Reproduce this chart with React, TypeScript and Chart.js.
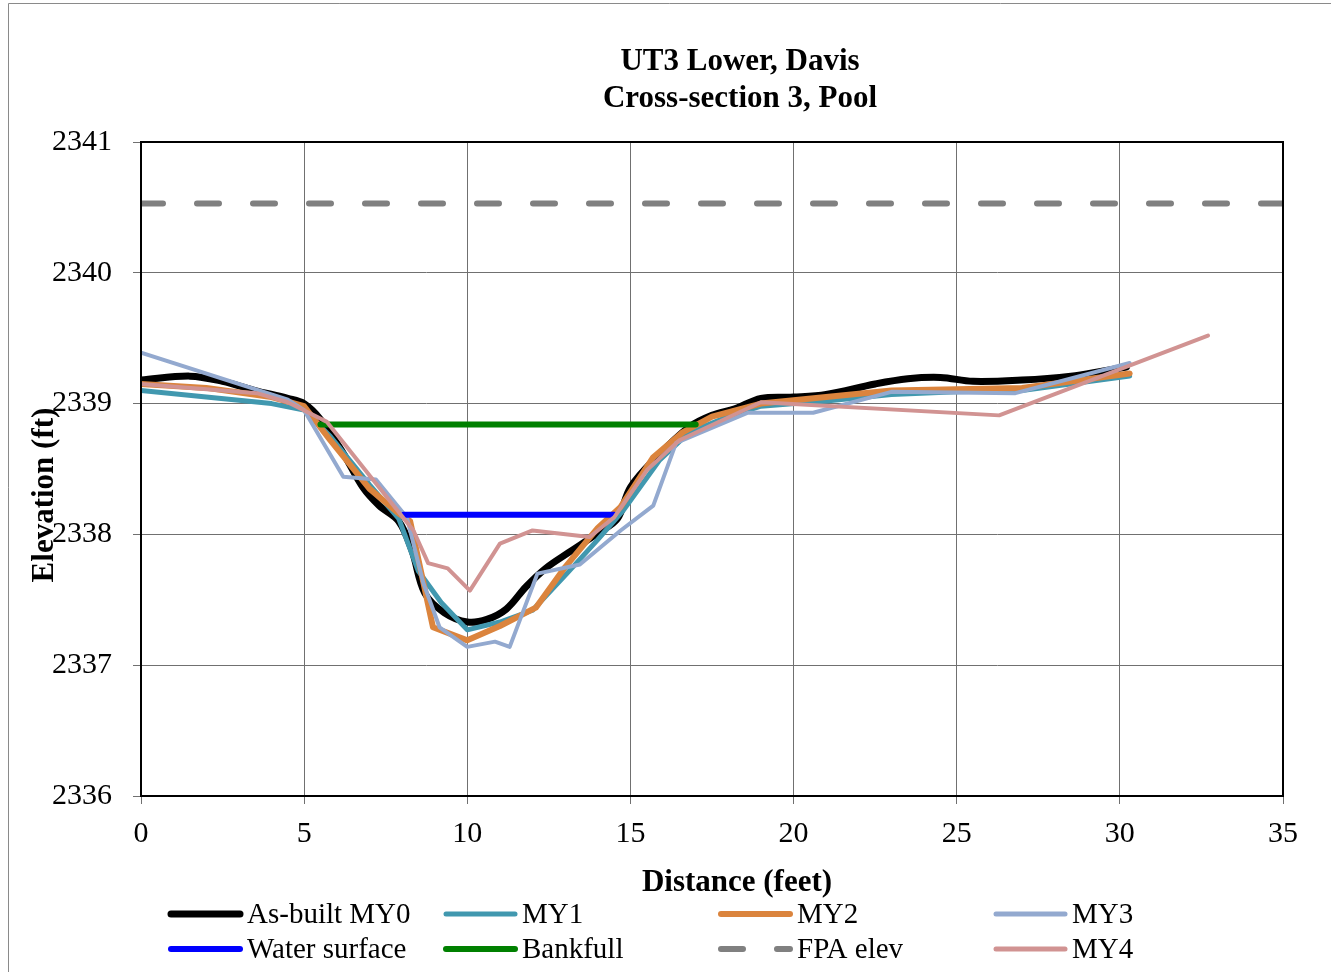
import React, { useEffect, useRef } from "react";
import { Chart, registerables } from "chart.js";

Chart.register(...registerables);

// ---- Data ----
const xTicksMin = 0;
const xTicksMax = 35;
const yTicksMin = 2336;
const yTicksMax = 2341;

const mainTitle = ["UT3 Lower, Davis", "Cross-section 3, Pool"];
const xAxisTitle = "Distance (feet)";
const yAxisTitle = "Elevation (ft)";

const asBuiltX = [0, 1.5, 2.5, 3.5, 4.5, 5.0, 5.5, 6.2, 6.8, 7.3, 7.9, 8.3, 8.7, 9.3, 10.0, 10.6, 11.2, 11.8, 12.4, 13.1, 14.0, 14.6, 15.0, 15.8, 16.8, 17.5, 18.2, 19.0, 20.0, 21.0, 22.5, 23.5, 24.5, 25.5, 27.0, 28.5, 29.5, 30.2];
const asBuiltY = [2339.18, 2339.21, 2339.17, 2339.1, 2339.04, 2339.0, 2338.88, 2338.62, 2338.36, 2338.22, 2338.1, 2337.88, 2337.55, 2337.4, 2337.33, 2337.35, 2337.43, 2337.6, 2337.74, 2337.86, 2338.01, 2338.12, 2338.36, 2338.59, 2338.82, 2338.91, 2338.96, 2339.04, 2339.05, 2339.07, 2339.15, 2339.19, 2339.2, 2339.17, 2339.18, 2339.21, 2339.25, 2339.28];

const my1X = [0, 2, 4, 5, 5.8, 7, 7.9, 8.5, 9.2, 10.0, 11, 12.0, 13.05, 14.0, 14.8, 15.9, 16.8, 18, 19, 21, 23, 25, 27, 30.3];
const my1Y = [2339.1, 2339.05, 2339.0, 2338.95, 2338.75, 2338.38, 2338.12, 2337.72, 2337.48, 2337.27, 2337.33, 2337.42, 2337.7, 2337.96, 2338.19, 2338.57, 2338.78, 2338.9, 2338.98, 2339.02, 2339.07, 2339.09, 2339.1, 2339.21];

const my2X = [0, 2, 4, 5, 5.8, 7.0, 7.9, 8.25, 8.95, 10.0, 11.0, 12.1, 13.0, 14.0, 14.7, 15.7, 16.6, 17.5, 19, 21, 23, 25, 27, 30.3];
const my2Y = [2339.15, 2339.12, 2339.05, 2338.98, 2338.72, 2338.35, 2338.16, 2338.1, 2337.29, 2337.19, 2337.3, 2337.44, 2337.75, 2338.05, 2338.21, 2338.59, 2338.78, 2338.9, 2339.0, 2339.05, 2339.1, 2339.11, 2339.12, 2339.23];

const my3X = [0, 4.5, 5.0, 6.2, 7.2, 8.15, 8.65, 9.15, 10.0, 10.85, 11.3, 12.15, 13.45, 14.7, 15.7, 16.4, 18.6, 20.6, 23.0, 26.8, 30.3];
const my3Y = [2339.39, 2339.03, 2338.95, 2338.44, 2338.42, 2338.13, 2337.63, 2337.29, 2337.14, 2337.18, 2337.14, 2337.7, 2337.77, 2338.03, 2338.22, 2338.7, 2338.93, 2338.93, 2339.09, 2339.08, 2339.31];

const waterX = [8.05, 14.5];
const waterY = [2338.15, 2338.15];

const bankfullX = [5.5, 17.0];
const bankfullY = [2338.84, 2338.84];

const fpaX = [0, 35];
const fpaY = [2340.53, 2340.53];

const my4X = [0, 3.55, 4.5, 5.7, 8.35, 8.8, 9.4, 10.08, 11.0, 12.0, 13.75, 14.5, 15.5, 16.5, 19.0, 26.3, 32.7];
const my4Y = [2339.15, 2339.08, 2339.01, 2338.86, 2338.03, 2337.78, 2337.74, 2337.57, 2337.93, 2338.03, 2337.98, 2338.13, 2338.49, 2338.72, 2339.01, 2338.91, 2339.52];

const seriesLabels = ["As-built MY0", "MY1", "MY2", "MY3", "Water surface", "Bankfull", "FPA elev", "MY4"];

const toPoints = (xs: number[], ys: number[]) => xs.map((x, i) => ({ x, y: ys[i] }));

const SERIF = '"Liberation Serif", "Times New Roman", serif';

const decorPlugin = {
  id: "decor",
  beforeDraw(chart: any) {
    const ctx = chart.ctx;
    ctx.save();
    ctx.fillStyle = "#ffffff";
    ctx.fillRect(0, 0, chart.width, chart.height);
    ctx.strokeStyle = "#8a8a8a";
    ctx.lineWidth = 1;
    ctx.beginPath();
    ctx.moveTo(8.5, chart.height);
    ctx.lineTo(8.5, 3.5);
    ctx.lineTo(chart.width, 3.5);
    ctx.stroke();
    ctx.restore();
  },
  afterDraw(chart: any) {
    const ctx = chart.ctx;
    const { left, top, right, bottom } = chart.chartArea;
    ctx.save();
    // plot frame
    ctx.strokeStyle = "#000000";
    ctx.lineWidth = 2;
    ctx.strokeRect(left, top, right - left, bottom - top);

    // titles
    ctx.fillStyle = "#000000";
    ctx.textAlign = "center";
    ctx.textBaseline = "middle";
    ctx.font = `bold 31px ${SERIF}`;
    ctx.fillText(mainTitle[0], 740, 62);
    ctx.fillText(mainTitle[1], 740, 99);
    ctx.fillText(xAxisTitle, 737, 883);
    ctx.save();
    ctx.translate(45, 495);
    ctx.rotate(-Math.PI / 2);
    ctx.fillText(yAxisTitle, 0, 0);
    ctx.restore();

    // legend
    const colX = [168, 443, 718, 993];
    const rowY = [914, 949];
    ctx.font = `29px ${SERIF}`;
    ctx.textAlign = "left";
    chart.data.datasets.forEach((ds: any, i: number) => {
      const cx = colX[i % 4];
      const cy = rowY[Math.floor(i / 4)];
      ctx.save();
      ctx.strokeStyle = ds.borderColor;
      ctx.lineWidth = Math.max(5, ds.borderWidth);
      ctx.lineCap = "round";
      ctx.setLineDash(ds.borderDash || []);
      ctx.beginPath();
      ctx.moveTo(cx + 3, cy);
      ctx.lineTo(cx + 72, cy);
      ctx.stroke();
      ctx.restore();
      ctx.fillText(ds.label, cx + 79, cy + 1);
    });
    ctx.restore();
  },
};

export default function App() {
  const canvasRef = useRef<HTMLCanvasElement | null>(null);

  useEffect(() => {
    if (!canvasRef.current) return;
    const mk = (i: number, xs: number[], ys: number[], color: string, width: number, extra: any = {}) => ({
      label: seriesLabels[i],
      data: toPoints(xs, ys),
      borderColor: color,
      backgroundColor: color,
      borderWidth: width,
      pointRadius: 0,
      pointHoverRadius: 0,
      showLine: true,
      fill: false,
      borderCapStyle: "round",
      borderJoinStyle: "round",
      order: 7 - i,
      ...extra,
    });

    const chart = new Chart(canvasRef.current, {
      type: "scatter",
      data: {
        datasets: [
          mk(0, asBuiltX, asBuiltY, "#000000", 7, { tension: 0.35 }),
          mk(1, my1X, my1Y, "#4198AF", 5),
          mk(2, my2X, my2Y, "#DB843D", 6),
          mk(3, my3X, my3Y, "#93A9CF", 4),
          mk(4, waterX, waterY, "#0000FF", 6),
          mk(5, bankfullX, bankfullY, "#008000", 6),
          mk(6, fpaX, fpaY, "#808080", 6, { borderDash: [22, 34], borderCapStyle: "round" }),
          mk(7, my4X, my4Y, "#D19392", 4),
        ] as any,
      },
      options: {
        animation: false,
        responsive: false,
        events: [],
        layout: { padding: { left: 0, top: 142, right: 48, bottom: 0 } },
        plugins: {
          legend: { display: false },
          title: { display: false },
          tooltip: { enabled: false },
        },
        scales: {
          x: {
            type: "linear",
            min: xTicksMin,
            max: xTicksMax,
            ticks: {
              stepSize: 5,
              color: "#000000",
              font: { family: SERIF, size: 30 },
              padding: 12,
              callback: (v: any) => String(v),
            },
            grid: { color: "#707070", lineWidth: 1, tickLength: 8 },
            border: { display: false },
            afterFit: (scale: any) => {
              scale.height = 972 - 796;
            },
          },
          y: {
            type: "linear",
            min: yTicksMin,
            max: yTicksMax,
            ticks: {
              stepSize: 1,
              color: "#000000",
              font: { family: SERIF, size: 30 },
              padding: 21,
              callback: (v: any) => String(v),
            },
            grid: { color: "#707070", lineWidth: 1, tickLength: 8 },
            border: { display: false },
            afterFit: (scale: any) => {
              scale.width = 141;
            },
          },
        },
      } as any,
      plugins: [decorPlugin],
    });
    return () => chart.destroy();
  }, []);

  return (
    <div style={{ position: "absolute", left: 0, top: 0, width: 1331, height: 972, overflow: "hidden" }}>
      <canvas ref={canvasRef} width={1331} height={972} style={{ width: 1331, height: 972, display: "block" }} />
    </div>
  );
}
